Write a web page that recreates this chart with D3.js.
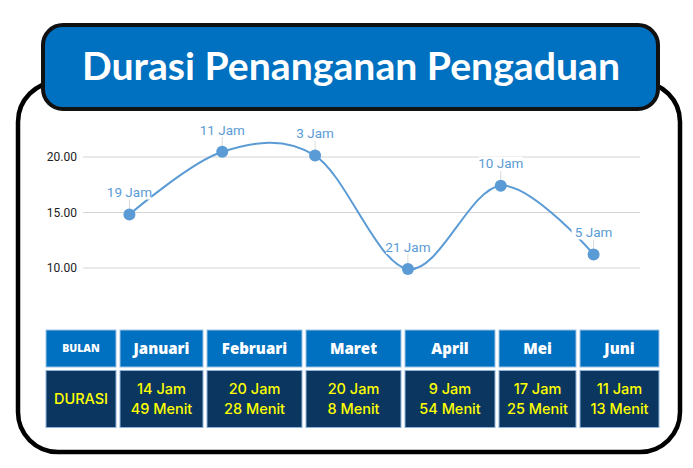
<!DOCTYPE html>
<html lang="id">
<head>
  <meta charset="UTF-8" />
  <title>Durasi Penanganan Pengaduan</title>
  <script src="https://d3js.org/d3.v7.min.js"></script>
  <style>
    body {
      margin: 0;
      background: #ffffff;
    }
    svg {
      display: block;
    }
  </style>
</head>
<body>
  <svg id="chart"></svg>

  <script>
    // data
    const months = ["Januari", "Februari", "Maret", "April", "Mei", "Juni"];
    const values = [14.82, 20.47, 20.13, 9.90, 17.42, 11.22];
    const pointLabels = ["19 Jam", "11 Jam", "3 Jam", "21 Jam", "10 Jam", "5 Jam"];
    const hourText = ["14 Jam", "20 Jam", "20 Jam", "9 Jam", "17 Jam", "11 Jam"];
    const minuteText = ["49 Menit", "28 Menit", "8 Menit", "54 Menit", "25 Menit", "13 Menit"];
    const yTicks = [10, 15, 20];

    const W = 693, H = 468;
    const svg = d3.select("#chart").attr("width", W).attr("height", H);

    const blue = "#0070C0";
    const navy = "#0A3660";
    const lineBlue = "#5B9BD5";

    // outer frame
    svg.append("rect")
      .attr("x", 18).attr("y", 82)
      .attr("width", 662).attr("height", 370)
      .attr("rx", 40)
      .attr("fill", "#fff")
      .attr("stroke", "#000")
      .attr("stroke-width", 4.5);

    // title box
    svg.append("rect")
      .attr("x", 43).attr("y", 25)
      .attr("width", 615).attr("height", 84)
      .attr("rx", 20)
      .attr("fill", blue)
      .attr("stroke", "#111")
      .attr("stroke-width", 4);

    svg.append("text")
      .attr("x", 351).attr("y", 80)
      .attr("text-anchor", "middle")
      .attr("fill", "#fff")
      .attr("font-family", "Lato, sans-serif")
      .attr("font-weight", "bold")
      .attr("font-size", 38)
      .attr("textLength", 538)
      .attr("lengthAdjust", "spacingAndGlyphs")
      .text("Durasi Penanganan Pengaduan");

    // line chart
    const x = d3.scaleBand().domain(months).range([83, 640]);
    const y = d3.scaleLinear().domain([5, 25]).range([323.5, 101.5]);
    const cx = m => x(m) + x.bandwidth() / 2;

    const grid = svg.append("g");
    grid.selectAll("line")
      .data(yTicks)
      .join("line")
      .attr("x1", 83).attr("x2", 640)
      .attr("y1", d => y(d)).attr("y2", d => y(d))
      .attr("stroke", "#d4d4d4")
      .attr("stroke-width", 1);

    grid.selectAll("text")
      .data(yTicks)
      .join("text")
      .attr("x", 77)
      .attr("y", d => y(d))
      .attr("dy", "0.35em")
      .attr("text-anchor", "end")
      .attr("font-family", "Roboto, sans-serif")
      .attr("font-size", 12)
      .attr("fill", "#222")
      .text(d => d3.format(".2f")(d));

    const pts = months.map((m, i) => ({ m, v: values[i], label: pointLabels[i] }));

    // leader lines from labels to points
    svg.append("g").selectAll("line")
      .data(pts)
      .join("line")
      .attr("x1", d => cx(d.m)).attr("x2", d => cx(d.m))
      .attr("y1", d => y(d.v) - 15).attr("y2", d => y(d.v) - 4)
      .attr("stroke", "#d9d9d9")
      .attr("stroke-width", 1);

    const line = d3.line()
      .x(d => cx(d.m))
      .y(d => y(d.v))
      .curve(d3.curveCardinal.tension(0));

    svg.append("path")
      .datum(pts)
      .attr("fill", "none")
      .attr("stroke", lineBlue)
      .attr("stroke-width", 2)
      .attr("d", line);

    svg.append("g").selectAll("circle")
      .data(pts)
      .join("circle")
      .attr("cx", d => cx(d.m))
      .attr("cy", d => y(d.v))
      .attr("r", 6)
      .attr("fill", lineBlue);

    const labels = svg.append("g").selectAll("g")
      .data(pts)
      .join("g")
      .attr("transform", d => `translate(${cx(d.m)},${y(d.v) - 22})`);

    labels.append("rect")
      .attr("x", -22).attr("y", -7)
      .attr("width", 44).attr("height", 14)
      .attr("fill", "#fff");

    labels.append("text")
      .attr("text-anchor", "middle")
      .attr("dy", "0.35em")
      .attr("font-family", "Roboto, sans-serif")
      .attr("font-size", 13.5)
      .attr("fill", lineBlue)
      .text(d => d.label);

    // table below the chart
    const colEdges = [46, 120, 207, 306, 405, 499, 580, 663];
    const headRow = { y: 330, h: 37 };
    const dataRow = { y: 370.5, h: 57 };

    const cols = d3.range(colEdges.length - 1).map(i => ({
      x: colEdges[i],
      w: colEdges[i + 1] - colEdges[i] - 4,
      head: i === 0 ? "BULAN" : months[i - 1],
      l1: i === 0 ? "DURASI" : hourText[i - 1],
      l2: i === 0 ? null : minuteText[i - 1]
    }));

    const table = svg.append("g");

    const colG = table.selectAll("g")
      .data(cols)
      .join("g");

    colG.append("rect")
      .attr("x", d => d.x).attr("y", headRow.y)
      .attr("width", d => d.w).attr("height", headRow.h)
      .attr("fill", blue)
      .attr("stroke", "#9dc3e6")
      .attr("stroke-width", 1);

    colG.append("rect")
      .attr("x", d => d.x).attr("y", dataRow.y)
      .attr("width", d => d.w).attr("height", dataRow.h)
      .attr("fill", navy)
      .attr("stroke", "#8fb4d9")
      .attr("stroke-width", 1);

    colG.append("text")
      .attr("x", d => d.x + d.w / 2)
      .attr("y", headRow.y + headRow.h / 2)
      .attr("dy", "0.35em")
      .attr("text-anchor", "middle")
      .attr("fill", "#fff")
      .attr("font-family", "'Open Sans', sans-serif")
      .attr("font-weight", 800)
      .attr("font-size", (d, i) => i === 0 ? 10.5 : 15)
      .text(d => d.head);

    const yellowText = sel => sel
      .attr("text-anchor", "middle")
      .attr("dy", "0.35em")
      .attr("fill", "#ffff00")
      .attr("font-family", "Inter, sans-serif")
      .attr("font-weight", 500)
      .attr("font-size", 14.5);

    colG.filter(d => d.l2 === null).append("text")
      .attr("x", d => d.x + d.w / 2)
      .attr("y", dataRow.y + dataRow.h / 2)
      .call(yellowText)
      .text(d => d.l1);

    const twoLine = colG.filter(d => d.l2 !== null);
    twoLine.append("text")
      .attr("x", d => d.x + d.w / 2)
      .attr("y", dataRow.y + 18.5)
      .call(yellowText)
      .text(d => d.l1);

    twoLine.append("text")
      .attr("x", d => d.x + d.w / 2)
      .attr("y", dataRow.y + 38.5)
      .call(yellowText)
      .text(d => d.l2);
  </script>
</body>
</html>
